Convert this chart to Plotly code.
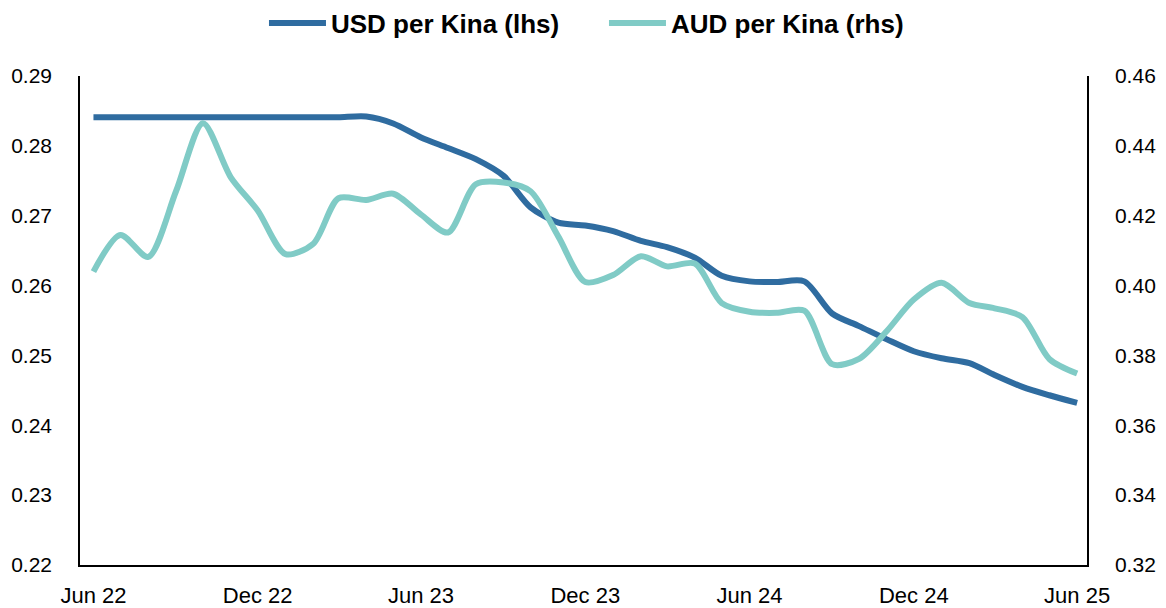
import plotly.graph_objects as go
import pandas as pd

months = pd.date_range("2022-06-01", "2025-06-01", freq="MS")

usd_per_kina = [
    0.2841, 0.2841, 0.2841, 0.2841, 0.2841, 0.2841, 0.2841, 0.2841, 0.2841, 0.2841,
    0.2842, 0.2832, 0.2812, 0.2797, 0.2781, 0.2757, 0.2712, 0.2690, 0.2686, 0.2678,
    0.2664, 0.2655, 0.2640, 0.2614, 0.2606, 0.2605, 0.2606, 0.2560, 0.2542, 0.2523,
    0.2506, 0.2496, 0.2489, 0.2472, 0.2455, 0.2443, 0.2432,
]

aud_per_kina = [
    0.4040, 0.4145, 0.4082, 0.4270, 0.4465, 0.4310, 0.4215, 0.4090, 0.4120, 0.4250,
    0.4245, 0.4263, 0.4203, 0.4152, 0.4290, 0.4295, 0.4270, 0.4140, 0.4010, 0.4030,
    0.4084, 0.4055, 0.4063, 0.3950, 0.3925, 0.3922, 0.3928, 0.3775, 0.3790, 0.3870,
    0.3960, 0.4008, 0.3950, 0.3935, 0.3910, 0.3790, 0.3748,
]

usd_name = "USD per Kina (lhs)"
aud_name = "AUD per Kina (rhs)"
usd_color = "#2F6CA0"
aud_color = "#80CBC6"

fig = go.Figure()
fig.add_trace(go.Scatter(
    x=months, y=usd_per_kina, name=usd_name, mode="lines",
    line=dict(color=usd_color, width=6, shape="spline", smoothing=0.8),
))
fig.add_trace(go.Scatter(
    x=months, y=aud_per_kina, name=aud_name, mode="lines", yaxis="y2",
    line=dict(color=aud_color, width=6, shape="spline", smoothing=0.8),
))

font_family = "Liberation Sans, Arial, sans-serif"

fig.update_layout(
    width=1166, height=608,
    margin=dict(l=80, r=79, t=76, b=43, autoexpand=False),
    paper_bgcolor="white", plot_bgcolor="white",
    font=dict(family=font_family, size=21, color="black"),
    showlegend=True,
    legend=dict(
        orientation="h", x=0.1827, xanchor="left", y=1.108, yanchor="middle",
        font=dict(size=26, family=font_family, color="black", weight="bold"),
        itemwidth=57, entrywidth=268, entrywidthmode="pixels",
        tracegroupgap=0, bgcolor="rgba(0,0,0,0)",
    ),
    xaxis=dict(
        type="date",
        range=["2022-05-17", "2025-06-12"],
        tick0="2022-06-01", dtick="M6", tickformat="%b %y",
        showgrid=False, zeroline=False,
        showline=True, linecolor="black", linewidth=1.5,
        ticks="", ticklabelstandoff=10,
        tickfont=dict(size=22),
    ),
    yaxis=dict(
        range=[0.22, 0.29], dtick=0.01, tickformat=".2f",
        showgrid=False, zeroline=False,
        showline=True, linecolor="black", linewidth=1.5,
        ticks="", ticklabelstandoff=22,
    ),
    yaxis2=dict(
        range=[0.32, 0.46], dtick=0.02, tickformat=".2f",
        overlaying="y", side="right",
        showgrid=False, zeroline=False,
        showline=True, linecolor="black", linewidth=1.5,
        ticks="", ticklabelstandoff=22,
    ),
)

fig.write_html(
    "out.html",
    config={"displayModeBar": False},
    post_script="document.body.style.margin='0';document.body.style.overflow='hidden';",
)
